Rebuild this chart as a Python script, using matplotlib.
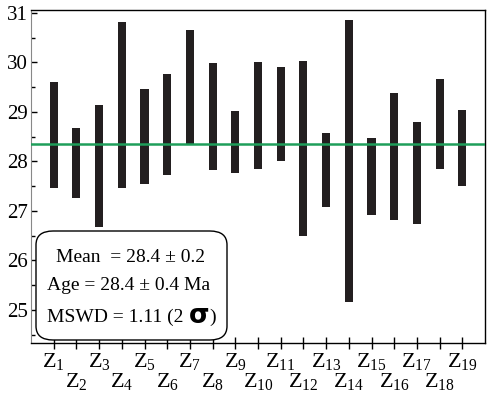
import numpy as np
import matplotlib.pyplot as plt
from matplotlib.patches import FancyBboxPatch

plt.rcParams['font.family'] = 'Liberation Serif'
plt.rcParams['mathtext.fontset'] = 'custom'
plt.rcParams['mathtext.rm'] = 'Liberation Serif'
plt.rcParams['mathtext.it'] = 'Liberation Serif'

##################################################### Data #####################################################
grains  = [f"Z{i}" for i in range(1, 20)]
top     = [29.60, 28.67, 29.13, 30.81, 29.47, 29.77, 30.66, 29.98, 29.01, 30.00,
           29.90, 30.02, 28.57, 30.85, 28.48, 29.39, 28.79, 29.66, 29.03]
bottom  = [27.47, 27.27, 26.67, 27.47, 27.55, 27.72, 28.33, 27.82, 27.76, 27.84,
           28.00, 26.50, 27.07, 25.15, 26.91, 26.81, 26.73, 27.84, 27.50]
mean_age = 28.36
box_lines = ["Mean  = 28.4 \u00b1 0.2", "Age = 28.4 \u00b1 0.4 Ma", "MSWD = 1.11 (2 "]

##################################################### Plot #####################################################
fig = plt.figure(figsize=(4.89, 3.97), dpi=100)
ax = fig.add_axes([31/489, 1 - 343/397, 454/489, 333/397])

x = np.arange(1, len(grains) + 1)
top = np.array(top)
bottom = np.array(bottom)
ax.bar(x, top - bottom, bottom=bottom, width=0.36, color="#231f20", edgecolor="none", zorder=2)
ax.axhline(mean_age, color="#1e9e5a", linewidth=1.8, zorder=3)

ax.set_xlim(0, 20)
ax.set_ylim(24.33, 31.06)
ax.set_yticks(np.arange(25, 32, 1))
ax.set_yticks(np.arange(24.5, 31.5, 0.5), minor=True)
ax.tick_params(axis="y", which="both", direction="in", length=4, width=1, labelsize=15, pad=2)
ax.tick_params(axis="y", which="minor", length=3)

# odd grains on the upper row (major ticks), even grains on the lower row (minor ticks)
labels = [r"Z$_{\mathregular{%d}}$" % (i + 1) for i in range(len(grains))]
ax.set_xticks(x[0::2])
ax.set_xticklabels(labels[0::2], fontsize=16)
ax.set_xticks(x[1::2], minor=True)
ax.set_xticklabels(labels[1::2], minor=True, fontsize=16)
ax.tick_params(axis="x", which="both", direction="inout", length=9, width=1)
ax.tick_params(axis="x", which="major", pad=1)
ax.tick_params(axis="x", which="minor", pad=16)

ax.spines["left"].set_color("#888888")
for s in ["top", "right", "bottom"]:
    ax.spines[s].set_color("black")
    ax.spines[s].set_linewidth(1.0)

# summary box
box = FancyBboxPatch((36/489, 1 - 340/397), 191/489, 109/397, boxstyle="round,pad=0,rounding_size=0.035",
                     transform=fig.transFigure, facecolor="white", edgecolor="black", linewidth=1.0,
                     zorder=5, clip_on=False)
ax.add_patch(box)
kw = dict(xycoords="figure fraction", va="center", fontsize=14, zorder=6, annotation_clip=False)
ax.annotate(box_lines[0], xy=(131/489, 1 - 257/397), ha="center", **kw)
ax.annotate(box_lines[1], xy=(129/489, 1 - 286/397), ha="center", **kw)
t3 = ax.annotate(box_lines[2], xy=(47/489, 1 - 317/397), ha="left", **kw)
ax.annotate("\u03c3", xy=(1, 0.55), xycoords=t3, ha="left", va="center", fontsize=19, fontweight="bold",
            family="DejaVu Sans", zorder=6, annotation_clip=False)
ax.annotate(")", xy=(1, 0.5), xycoords=t3, xytext=(15, 0), textcoords="offset points", ha="left", va="center",
            fontsize=14, zorder=6, annotation_clip=False)

plt.savefig("out.png", dpi=100)
